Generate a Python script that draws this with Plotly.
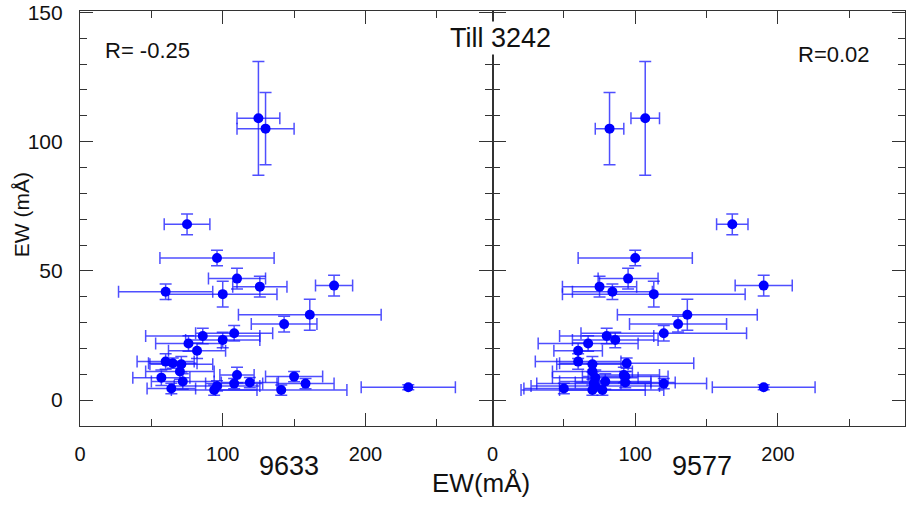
import plotly.graph_objects as go

# Shared y values (EW of line, mÅ) and their errors
ew_y = [109, 105, 68, 55, 47, 44.3, 43.9, 41.9, 41, 33, 29.4, 25.9, 24.8, 23.3, 21.9, 19.1,
        14.9, 14.3, 13.9, 11.1, 9.7, 9.1, 8.7, 7.2, 6.8, 6.4, 6.4, 5.5, 5.0, 4.5, 3.9, 3.9]
ew_y_err = [22, 14, 4, 3, 4, 4, 4, 3, 5, 6, 3, 3, 3, 3, 3, 3,
            3, 2, 3, 3, 3, 2, 3, 3, 2, 2, 2, 2, 1, 2, 2, 2]

# Left panel: EW of 9633
ew_9633 = [125, 130, 75, 96, 110, 178, 126, 60, 100, 161, 143, 108, 86, 100, 76, 82,
           60, 65, 71, 70, 110, 150, 57, 72, 119, 108, 158, 96, 230, 64, 94, 141]
ew_9633_err = [15, 20, 16, 40, 20, 13, 19, 33, 38, 50, 23, 27, 40, 26, 23, 20,
               20, 17, 22, 24, 12, 20, 20, 22, 20, 20, 20, 30, 33, 17, 30, 46]

# Right panel: EW of 9577
ew_9577 = [107, 82, 168, 100, 95, 190, 75, 84, 113, 136.5, 130, 120, 80, 86, 67, 60,
           60, 94, 70, 70, 92, 93, 72, 79, 93, 120, 71, 72, 190, 50, 77, 70]
ew_9577_err = [10, 10, 11, 40, 21, 20, 26, 28, 64, 49, 34, 58, 33, 30, 35, 17,
               30, 47, 25, 28, 25, 30, 30, 32, 35, 30, 40, 45, 36, 28, 30, 50]

x_tick_step = 100
y_tick_step = 50

BLUE = "#0000ff"
BAR = "rgba(20,20,255,0.75)"

fig = go.Figure()
for xs, xe, xa, ya in [(ew_9633, ew_9633_err, "x", "y"), (ew_9577, ew_9577_err, "x2", "y2")]:
    fig.add_trace(go.Scatter(
        x=xs, y=ew_y, mode="markers", xaxis=xa, yaxis=ya,
        marker=dict(color=BLUE, size=10),
        error_x=dict(type="data", array=xe, visible=True, color=BAR, thickness=1.5, width=6),
        error_y=dict(type="data", array=ew_y_err, visible=True, color=BAR, thickness=1.5, width=6),
        showlegend=False,
    ))

font = "Liberation Sans, Arial, sans-serif"
axcol = "#333333"
xcommon = dict(range=[0, 289], tickmode="linear", tick0=0, dtick=x_tick_step,
               ticks="inside", ticklen=13, tickwidth=1.2,
               tickcolor=axcol, showline=True, linecolor=axcol, linewidth=1.2, mirror="allticks",
               showgrid=False, zeroline=False, tickfont=dict(family=font, size=20, color="#111"),
               minor=dict(dtick=50, tick0=0, ticks="inside", ticklen=7, tickcolor=axcol, tickwidth=1.2,
                          showgrid=False))
ycommon = dict(range=[-10, 150.5], tickmode="linear", tick0=0, dtick=y_tick_step,
               ticks="inside", ticklen=13, tickwidth=1.2,
               tickcolor=axcol, showline=True, linecolor=axcol, linewidth=1.2, mirror="allticks",
               showgrid=False, zeroline=False, tickfont=dict(family=font, size=21, color="#111"),
               minor=dict(dtick=10, tick0=0, ticks="inside", ticklen=7, tickcolor=axcol, tickwidth=1.2,
                          showgrid=False))

fig.update_layout(
    width=906, height=505,
    margin=dict(l=80, r=1, t=11, b=79),
    plot_bgcolor="white", paper_bgcolor="white",
    xaxis=dict(domain=[0, 0.5], anchor="y", ticklabelstandoff=10, **xcommon),
    xaxis2=dict(domain=[0.5, 1], anchor="y2", ticklabelstandoff=10, **xcommon),
    yaxis=dict(domain=[0, 1], anchor="x", ticklabelstandoff=12, **ycommon),
    yaxis2=dict(domain=[0, 1], anchor="x2", showticklabels=False, **ycommon),
    font=dict(family=font, color="#111"),
)

ann = [
    dict(text="R= -0.25", x=0.0818, y=0.904, size=22),
    dict(text="R=0.02", x=0.914, y=0.896, size=22),
    dict(text="9633", x=0.2533, y=-0.0964, size=27),
    dict(text="9577", x=0.754, y=-0.0964, size=27),
    dict(text="EW(mÅ)", x=0.486, y=-0.137, size=26),
]
for a in ann:
    fig.add_annotation(text=a["text"], x=a["x"], y=a["y"], xref="paper", yref="paper",
                       showarrow=False, xanchor="center", yanchor="middle",
                       font=dict(family=font, size=a["size"], color="#111"))
fig.add_annotation(text="Till 3242", x=0.510, y=0.935, xref="paper", yref="paper",
                   showarrow=False, xanchor="center", yanchor="middle", bgcolor="white",
                   font=dict(family=font, size=27, color="#111"))
fig.add_annotation(text="EW (mÅ)", x=-0.0715, y=0.508, xref="paper", yref="paper",
                   showarrow=False, textangle=-90, xanchor="center", yanchor="middle",
                   font=dict(family=font, size=21, color="#111"))

fig.write_html("out.html", config={"displayModeBar": False},
               post_script="document.body.style.margin='0';document.body.style.overflow='hidden';")
